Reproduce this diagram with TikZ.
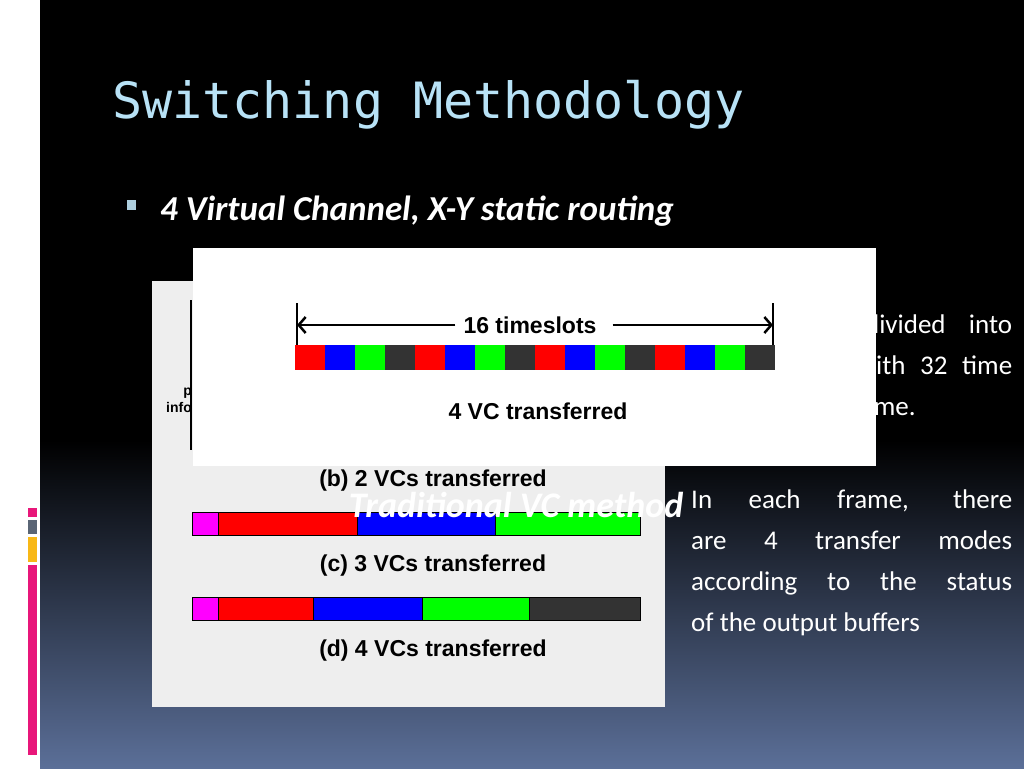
\documentclass[tikz,border=0pt]{standalone}
\usetikzlibrary{arrows.meta}
\usepackage{fontspec}
\setmainfont{Carlito}
\newfontfamily\monof{DejaVu Sans Mono}
\newfontfamily\arialf{Liberation Sans}
\definecolor{ttl}{HTML}{B8E2F6}
\definecolor{bgb}{HTML}{5B6F98}
\definecolor{pnl}{HTML}{EEEEEE}
\definecolor{vr}{HTML}{FF0000}
\definecolor{vb}{HTML}{0000FF}
\definecolor{vg}{HTML}{00FF00}
\definecolor{vd}{HTML}{333333}
\definecolor{vm}{HTML}{FF00FF}
\definecolor{pk}{HTML}{E8177A}
\definecolor{yl}{HTML}{F8B817}
\definecolor{gy}{HTML}{5A6575}
\tikzset{
  lbl/.style={inner sep=0pt,font=\arialf\bfseries\fontsize{23}{23}\selectfont},
  wt/.style={inner sep=0pt,text=white,anchor=base west,font=\fontsize{27}{27}\selectfont},
}
\begin{document}
\begin{tikzpicture}[x=1pt,y=-1pt]
\useasboundingbox (0,0) rectangle (1024,768);
% background
\fill[white] (0,0) rectangle (40,768);
\fill[black] (40,0) rectangle (1024,440);
\shade[top color=black,bottom color=bgb] (40,440) rectangle (1024,768);
\fill[pk] (28,508) rectangle (37,517);
\fill[gy] (28,520) rectangle (37,534);
\fill[yl] (28,537) rectangle (37,562);
\fill[pk] (28,565) rectangle (37,755);
% title
\node[anchor=base west,inner sep=0pt,text=ttl,font=\monof\fontsize{50}{50}\selectfont] (title) at (112,118) {Switching Methodology};
\fill[ttl!80!gray] (127,200) rectangle (136,210);
\node[anchor=base west,inner sep=0pt,text=white,font=\bfseries\itshape\fontsize{35}{35}\selectfont] (bul) at (160,220) {4 Virtual Channel, X-Y static routing};
% right text (upper, partly hidden)
\node[wt] (r1) at (691,333) {\makebox[321pt][s]{A period is divided into}};
\node[wt] (r2) at (691,374) {\makebox[321pt][s]{frames, each with 32 time}};
\node[wt] (r3) at (691,415) {slots during a frame.};
\node[wt] (r4) at (691,508) {\makebox[321pt][s]{In each frame, there}};
\node[wt] (r5) at (691,549) {\makebox[321pt][s]{are 4 transfer modes}};
\node[wt] (r6) at (691,590) {\makebox[321pt][s]{according to the status}};
\node[wt] (r7) at (691,631) {of the output buffers};
% gray panel
\fill[pnl] (152,281) rectangle (665,707);
\draw[line width=2.5pt] (191,300) -- (191,450);
\node[anchor=base east,inner sep=0pt,font=\arialf\bfseries\fontsize{14}{14}\selectfont] (pi) at (192,412) {\shortstack[r]{p\\info}};
\node[lbl] (b) at (433,481) {(b) 2 VCs transferred};
\node[lbl] (c) at (433,566) {(c) 3 VCs transferred};
\node[lbl] (d) at (433,651) {(d) 4 VCs transferred};
\foreach \a/\b/\c in {192/218/vm,218/357/vr,357/495/vb,495/640/vg}
  \filldraw[fill=\c,draw=black,line width=1pt] (\a,512) rectangle (\b,535);
\foreach \a/\b/\c in {192/218/vm,218/313/vr,313/422/vb,422/529/vg,529/640/vd}
  \filldraw[fill=\c,draw=black,line width=1pt] (\a,597) rectangle (\b,620);
% white box
\fill[white] (193,248) rectangle (876,466);
\coordinate (la) at (297,325);
\coordinate (ra) at (773,325);
\draw[line width=2.5pt] (297,303) -- (297,346);
\draw[line width=2.5pt] (773,303) -- (773,346);
\node[lbl] (ts) at (530,325) {16 timeslots};
\draw[line width=2.5pt,-{Straight Barb[length=7pt,width=16pt]}] ([xshift=-8pt]ts.west) -- (la);
\draw[line width=2.5pt,-{Straight Barb[length=7pt,width=16pt]}] ([xshift=16pt]ts.east) -- (ra);
\foreach \i/\c in {0/vr,1/vb,2/vg,3/vd,4/vr,5/vb,6/vg,7/vd,8/vr,9/vb,10/vg,11/vd,12/vr,13/vb,14/vg,15/vd}
  \fill[\c] ({295+\i*30},345) rectangle ({325+\i*30},370);
\node[lbl] (vc) at (538,411) {4 VC transferred};
% overlay title
\node[inner sep=0pt,text=white,font=\bfseries\itshape\fontsize{36}{36}\selectfont] (trad) at (516,505) {Traditional VC method};
\end{tikzpicture}
\end{document}
